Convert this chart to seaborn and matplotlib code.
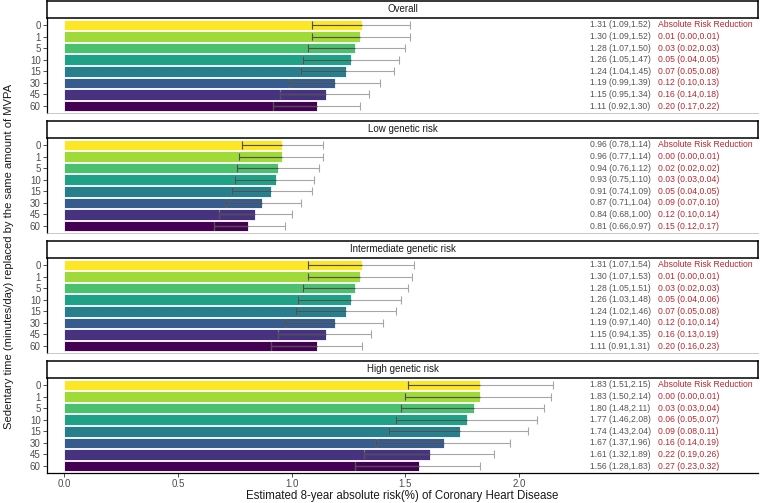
import numpy as np
import pandas as pd
import matplotlib
matplotlib.use("Agg")
import matplotlib.pyplot as plt
import seaborn as sns

# sedentary minutes replaced by MVPA
cats = ["0", "1", "5", "10", "15", "30", "45", "60"]
panels = ["Overall", "Low genetic risk", "Intermediate genetic risk", "High genetic risk"]

# estimated 8-year absolute risk (%) with 95% CI
overall_est = [1.31, 1.30, 1.28, 1.26, 1.24, 1.19, 1.15, 1.11]
overall_lo = [1.09, 1.09, 1.07, 1.05, 1.04, 0.99, 0.95, 0.92]
overall_hi = [1.52, 1.52, 1.50, 1.47, 1.45, 1.39, 1.34, 1.30]
low_est = [0.96, 0.96, 0.94, 0.93, 0.91, 0.87, 0.84, 0.81]
low_lo = [0.78, 0.77, 0.76, 0.75, 0.74, 0.71, 0.68, 0.66]
low_hi = [1.14, 1.14, 1.12, 1.10, 1.09, 1.04, 1.00, 0.97]
mid_est = [1.31, 1.30, 1.28, 1.26, 1.24, 1.19, 1.15, 1.11]
mid_lo = [1.07, 1.07, 1.05, 1.03, 1.02, 0.97, 0.94, 0.91]
mid_hi = [1.54, 1.53, 1.51, 1.48, 1.46, 1.40, 1.35, 1.31]
high_est = [1.83, 1.83, 1.80, 1.77, 1.74, 1.67, 1.61, 1.56]
high_lo = [1.51, 1.50, 1.48, 1.46, 1.43, 1.37, 1.32, 1.28]
high_hi = [2.15, 2.14, 2.11, 2.08, 2.04, 1.96, 1.89, 1.83]

# absolute risk reduction vs 0 minutes (rows 1..7)
overall_arr = [0.01, 0.03, 0.05, 0.07, 0.12, 0.16, 0.20]
overall_arr_lo = [0.00, 0.02, 0.04, 0.05, 0.10, 0.14, 0.17]
overall_arr_hi = [0.01, 0.03, 0.05, 0.08, 0.13, 0.18, 0.22]
low_arr = [0.00, 0.02, 0.03, 0.05, 0.09, 0.12, 0.15]
low_arr_lo = [0.00, 0.02, 0.03, 0.04, 0.07, 0.10, 0.12]
low_arr_hi = [0.01, 0.02, 0.04, 0.05, 0.10, 0.14, 0.17]
mid_arr = [0.01, 0.03, 0.05, 0.07, 0.12, 0.16, 0.20]
mid_arr_lo = [0.00, 0.02, 0.04, 0.05, 0.10, 0.13, 0.16]
mid_arr_hi = [0.01, 0.03, 0.06, 0.08, 0.14, 0.19, 0.23]
high_arr = [0.00, 0.03, 0.06, 0.09, 0.16, 0.22, 0.27]
high_arr_lo = [0.00, 0.03, 0.05, 0.08, 0.14, 0.19, 0.23]
high_arr_hi = [0.01, 0.04, 0.07, 0.11, 0.19, 0.26, 0.32]

groups = [
    (overall_est, overall_lo, overall_hi, overall_arr, overall_arr_lo, overall_arr_hi),
    (low_est, low_lo, low_hi, low_arr, low_arr_lo, low_arr_hi),
    (mid_est, mid_lo, mid_hi, mid_arr, mid_arr_lo, mid_arr_hi),
    (high_est, high_lo, high_hi, high_arr, high_arr_lo, high_arr_hi),
]

sns.set_style("white")
plt.rcParams["font.family"] = ["Liberation Sans", "DejaVu Sans"]

colors = plt.cm.viridis(np.linspace(0, 1, len(cats)))[::-1]
pal = dict(zip(cats, colors))

W, H = 760, 503
fig = plt.figure(figsize=(7.6, 5.03), dpi=100)

left_px, right_px = 47, 758
strip_h, panel_h, period = 17, 95, 120

for k, (name, (est, lo, hi, arr, arr_lo, arr_hi)) in enumerate(zip(panels, groups)):
    top = 1 + k * period

    ax = fig.add_axes([left_px / W, 1 - (top + strip_h + panel_h) / H,
                       (right_px - left_px) / W, panel_h / H])
    ax.patch.set_alpha(0)
    df = pd.DataFrame({"cat": cats, "est": est, "lo": lo, "hi": hi})
    sns.barplot(data=df, x="est", y="cat", hue="cat", order=cats, palette=pal,
                saturation=1, legend=False, width=0.9, edgecolor="white",
                linewidth=0.6, ax=ax)
    ypos = np.arange(len(cats))
    ax.errorbar(df["est"], ypos, xerr=[df["est"] - df["lo"], df["hi"] - df["est"]],
                fmt="none", ecolor="#a6a6a6", elinewidth=0.8, capsize=2.9, capthick=0.8)
    ax.hlines(ypos, df["lo"], df["est"], color="#505050", lw=0.8)
    ax.vlines(df["lo"], ypos - 0.33, ypos + 0.33, color="#505050", lw=0.8)

    for i in range(len(cats)):
        ax.text(2.31, i, f"{est[i]:.2f} ({lo[i]:.2f},{hi[i]:.2f})", ha="left", va="center",
                fontsize=6.2, color="#555555")
        if i == 0:
            red = "Absolute Risk Reduction"
        else:
            red = f"{arr[i-1]:.2f} ({arr_lo[i-1]:.2f},{arr_hi[i-1]:.2f})"
        ax.text(2.61, i, red, ha="left", va="center", fontsize=6.2, color="#B8262E")

    ax.set_xlim(-0.075, 3.05)
    ax.set_ylim(len(cats) - 0.4, -0.6)
    ax.set_xlabel("")
    ax.set_ylabel("")
    ax.spines["top"].set_visible(False)
    ax.spines["right"].set_visible(False)
    ax.spines["left"].set_color("black")
    ax.spines["left"].set_linewidth(0.9)
    ax.tick_params(axis="y", length=3, width=0.6, color="#333333", labelsize=7,
                   labelcolor="#4d4d4d", pad=1.5, left=True)
    ax.set_xticks([0, 0.5, 1.0, 1.5, 2.0])
    if k < len(panels) - 1:
        ax.spines["bottom"].set_color("#bfbfbf")
        ax.spines["bottom"].set_linewidth(0.6)
        ax.tick_params(axis="x", bottom=False, labelbottom=False)
    else:
        ax.spines["bottom"].set_color("black")
        ax.spines["bottom"].set_linewidth(0.9)
        ax.set_xticklabels(["0.0", "0.5", "1.0", "1.5", "2.0"])
        ax.tick_params(axis="x", bottom=True, length=3, width=0.6, color="#333333",
                       labelsize=7, labelcolor="#4d4d4d", pad=1.0)

    # facet strip drawn on top of the panel
    sax = fig.add_axes([left_px / W, 1 - (top + strip_h) / H,
                        (right_px - left_px) / W, strip_h / H])
    sax.set_xticks([])
    sax.set_yticks([])
    sax.set_facecolor("white")
    for sp in sax.spines.values():
        sp.set_visible(True)
        sp.set_color("black")
        sp.set_linewidth(1.1)
    sax.text(0.5, 0.5, name, ha="center", va="center", fontsize=7, color="#1a1a1a",
             transform=sax.transAxes)

fig.text((left_px + right_px) / 2 / W, 0.014,
         "Estimated 8-year absolute risk(%) of Coronary Heart Disease",
         ha="center", va="center", fontsize=8.3, color="#1a1a1a")
fig.text(0.012, 0.49, "Sedentary time (minutes/day) replaced by the same amount of MVPA",
         ha="center", va="center", rotation=90, fontsize=8.1, color="#1a1a1a")

fig.savefig("out.png", dpi=100)
